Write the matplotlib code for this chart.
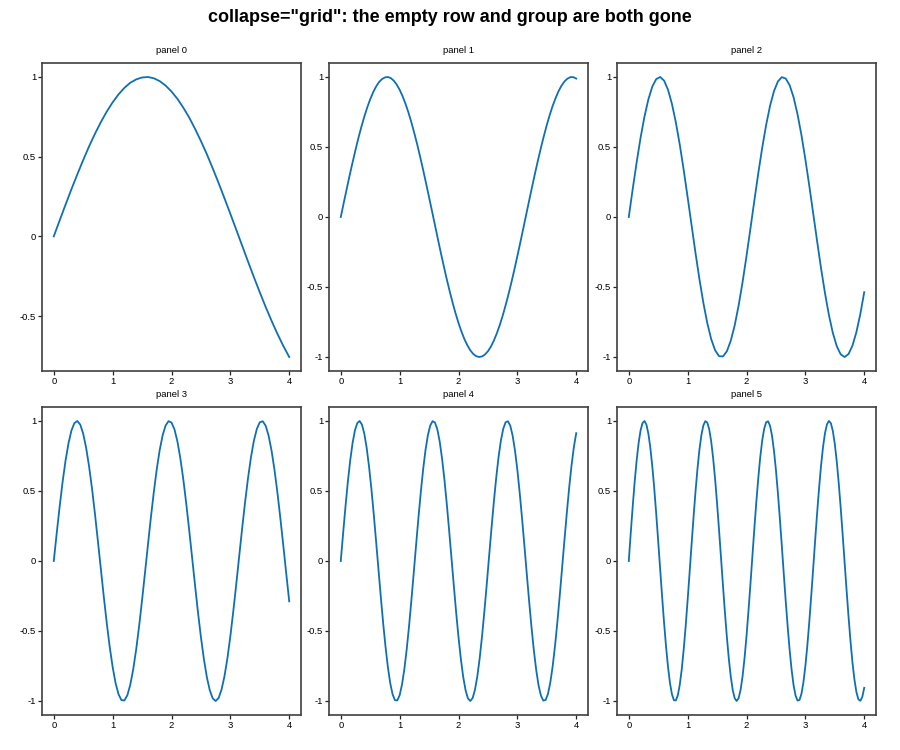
import numpy as np
import matplotlib
matplotlib.use("Agg")
import matplotlib.pyplot as plt
from matplotlib.ticker import FuncFormatter

panel_titles = ["panel 0", "panel 1", "panel 2", "panel 3", "panel 4", "panel 5"]
x_min, x_max = 0.0, 4.0

y_panel0 = [0.000, 0.100, 0.199, 0.296, 0.389, 0.479, 0.565, 0.644, 0.717, 0.783, 0.841,
            0.891, 0.932, 0.964, 0.985, 0.997, 1.000, 0.992, 0.974, 0.946, 0.909,
            0.863, 0.808, 0.746, 0.675, 0.598, 0.516, 0.427, 0.335, 0.239, 0.141,
            0.042, -0.058, -0.158, -0.256, -0.351, -0.443, -0.530, -0.612, -0.688, -0.757]

y_panel1 = [0.000, 0.100, 0.199, 0.296, 0.389, 0.479, 0.565, 0.644, 0.717, 0.783, 0.841,
            0.891, 0.932, 0.964, 0.985, 0.997, 1.000, 0.992, 0.974, 0.946, 0.909,
            0.863, 0.808, 0.746, 0.675, 0.598, 0.516, 0.427, 0.335, 0.239, 0.141,
            0.042, -0.058, -0.158, -0.256, -0.351, -0.443, -0.530, -0.612, -0.688, -0.757,
            -0.818, -0.872, -0.916, -0.952, -0.978, -0.994, -1.000, -0.996, -0.982, -0.959,
            -0.926, -0.883, -0.832, -0.773, -0.706, -0.631, -0.551, -0.465, -0.374, -0.279,
            -0.182, -0.083, 0.017, 0.117, 0.215, 0.312, 0.405, 0.494, 0.578, 0.657,
            0.729, 0.794, 0.850, 0.899, 0.938, 0.968, 0.988, 0.999, 0.999, 0.989]

y_panel2 = [0.000, 0.199, 0.389, 0.565, 0.717, 0.841, 0.932, 0.985, 1.000, 0.974, 0.909,
            0.808, 0.675, 0.516, 0.335, 0.141, -0.058, -0.256, -0.443, -0.612, -0.757,
            -0.872, -0.952, -0.994, -0.996, -0.959, -0.883, -0.773, -0.631, -0.465, -0.279,
            -0.083, 0.117, 0.312, 0.494, 0.657, 0.794, 0.899, 0.968, 0.999, 0.989,
            0.941, 0.855, 0.734, 0.585, 0.412, 0.223, 0.025, -0.174, -0.367, -0.544,
            -0.700, -0.828, -0.923, -0.981, -1.000, -0.979, -0.919, -0.823, -0.694, -0.537]

y_panel3 = [0.000, 0.199, 0.389, 0.565, 0.717, 0.841, 0.932, 0.985, 1.000, 0.974, 0.909,
            0.808, 0.675, 0.516, 0.335, 0.141, -0.058, -0.256, -0.443, -0.612, -0.757,
            -0.872, -0.952, -0.994, -0.996, -0.959, -0.883, -0.773, -0.631, -0.465, -0.279,
            -0.083, 0.117, 0.312, 0.494, 0.657, 0.794, 0.899, 0.968, 0.999, 0.989,
            0.941, 0.855, 0.734, 0.585, 0.412, 0.223, 0.025, -0.174, -0.367, -0.544,
            -0.700, -0.828, -0.923, -0.981, -1.000, -0.979, -0.919, -0.823, -0.694, -0.537,
            -0.358, -0.166, 0.034, 0.232, 0.420, 0.592, 0.741, 0.860, 0.944, 0.991,
            0.998, 0.966, 0.895, 0.788, 0.650, 0.486, 0.303, 0.108, -0.092, -0.288]

y_panel4 = [0.000, 0.199, 0.389, 0.565, 0.717, 0.841, 0.932, 0.985, 1.000, 0.974, 0.909,
            0.808, 0.675, 0.516, 0.335, 0.141, -0.058, -0.256, -0.443, -0.612, -0.757,
            -0.872, -0.952, -0.994, -0.996, -0.959, -0.883, -0.773, -0.631, -0.465, -0.279,
            -0.083, 0.117, 0.312, 0.494, 0.657, 0.794, 0.899, 0.968, 0.999, 0.989,
            0.941, 0.855, 0.734, 0.585, 0.412, 0.223, 0.025, -0.174, -0.367, -0.544,
            -0.700, -0.828, -0.923, -0.981, -1.000, -0.979, -0.919, -0.823, -0.694, -0.537,
            -0.358, -0.166, 0.034, 0.232, 0.420, 0.592, 0.741, 0.860, 0.944, 0.991,
            0.998, 0.966, 0.895, 0.788, 0.650, 0.486, 0.303, 0.108, -0.092, -0.288,
            -0.472, -0.638, -0.778, -0.888, -0.961, -0.997, -0.993, -0.949, -0.867, -0.751,
            -0.605, -0.435, -0.247, -0.050, 0.150, 0.343, 0.523, 0.682, 0.814, 0.913]

y_panel5 = [0.000, 0.199, 0.389, 0.565, 0.717, 0.841, 0.932, 0.985, 1.000, 0.974, 0.909,
            0.808, 0.675, 0.516, 0.335, 0.141, -0.058, -0.256, -0.443, -0.612, -0.757,
            -0.872, -0.952, -0.994, -0.996, -0.959, -0.883, -0.773, -0.631, -0.465, -0.279,
            -0.083, 0.117, 0.312, 0.494, 0.657, 0.794, 0.899, 0.968, 0.999, 0.989,
            0.941, 0.855, 0.734, 0.585, 0.412, 0.223, 0.025, -0.174, -0.367, -0.544,
            -0.700, -0.828, -0.923, -0.981, -1.000, -0.979, -0.919, -0.823, -0.694, -0.537,
            -0.358, -0.166, 0.034, 0.232, 0.420, 0.592, 0.741, 0.860, 0.944, 0.991,
            0.998, 0.966, 0.895, 0.788, 0.650, 0.486, 0.303, 0.108, -0.092, -0.288,
            -0.472, -0.638, -0.778, -0.888, -0.961, -0.997, -0.993, -0.949, -0.867, -0.751,
            -0.605, -0.435, -0.247, -0.050, 0.150, 0.343, 0.523, 0.682, 0.814, 0.913,
            0.976, 1.000, 0.984, 0.929, 0.837, 0.711, 0.557, 0.381, 0.190, -0.009,
            -0.207, -0.397, -0.572, -0.724, -0.846, -0.935, -0.987, -0.999, -0.972, -0.906]

series = [y_panel0, y_panel1, y_panel2, y_panel3, y_panel4, y_panel5]
x_ticks = [0, 1, 2, 3, 4]
y_ticks = [-1, -0.5, 0, 0.5, 1]

# ---- styling ----
plt.rcParams['font.family'] = ['Liberation Sans', 'DejaVu Sans']
plt.rcParams['axes.unicode_minus'] = False
line_color = '#0f6fb5'
spine_color = '#404040'

fig = plt.figure(figsize=(9, 7.5), dpi=100)
fig.text(0.5, 1 - 18 / 750,
         'collapse="grid": the empty row and group are both gone',
         fontsize=13, fontweight='bold', ha='center', va='center')

lefts = [42 / 900, 329 / 900, 617 / 900]
width = 259 / 900
bottoms = [1 - 371 / 750, 1 - 715 / 750]
height = 308 / 750

fmt = FuncFormatter(lambda v, p: f"{v:g}")

for i, (title, ys) in enumerate(zip(panel_titles, series)):
    r, c = divmod(i, 3)
    ax = fig.add_axes([lefts[c], bottoms[r], width, height])
    xs = np.linspace(x_min, x_max, len(ys))
    ax.plot(xs, ys, color=line_color, lw=1.3)
    ax.set_title(title, fontsize=6.8, pad=7)
    ax.set_xticks(x_ticks)
    lo, hi = min(ys), max(ys)
    ax.set_yticks([t for t in y_ticks if lo - 0.02 <= t <= hi + 0.02])
    ax.xaxis.set_major_formatter(fmt)
    ax.yaxis.set_major_formatter(fmt)
    ax.tick_params(axis='both', labelsize=6.8, length=3, width=0.9,
                   color='#222222', pad=1.2, direction='out')
    for s in ax.spines.values():
        s.set_color(spine_color)
        s.set_linewidth(1.2)

fig.savefig('out.png', dpi=100)
